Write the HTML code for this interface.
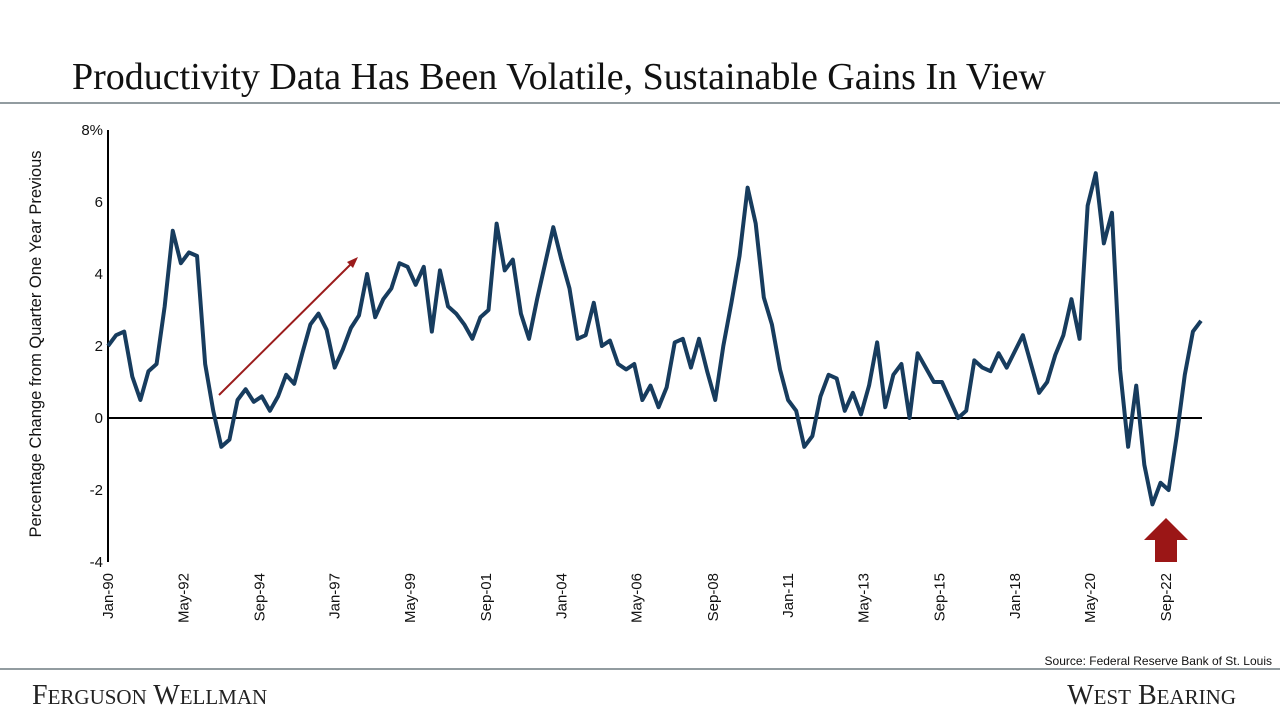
<!DOCTYPE html>
<html><head><meta charset="utf-8"><style>
body{margin:0;background:#fff;width:1280px;height:720px;overflow:hidden;font-family:"Liberation Sans",sans-serif}
</style></head><body>
<svg width="1280" height="720">
<text x="72" y="89" font-family="Liberation Serif,serif" font-size="38" fill="#111">Productivity Data Has Been Volatile, Sustainable Gains In View</text>
<line x1="0" y1="103" x2="1280" y2="103" stroke="#6f7b80" stroke-width="1.5"/>
<g id="plot"></g>
<text x="1272" y="665" text-anchor="end" font-size="12" fill="#111">Source: Federal Reserve Bank of St. Louis</text>
<line x1="0" y1="669" x2="1280" y2="669" stroke="#6f7b80" stroke-width="1.5"/>
<text x="32" y="704" font-family="Liberation Serif,serif" font-size="28" fill="#222">F<tspan font-size="21">ERGUSON</tspan> W<tspan font-size="21">ELLMAN</tspan></text>
<text x="1236" y="704" text-anchor="end" font-family="Liberation Serif,serif" font-size="28" fill="#222">W<tspan font-size="21">EST</tspan> B<tspan font-size="21">EARING</tspan></text>
</svg>
<script>
const values=[2.0,2.3,2.4,1.15,0.5,1.3,1.5,3.1,5.2,4.3,4.6,4.5,1.5,0.2,-0.8,-0.6,0.5,0.8,0.45,0.6,0.2,0.6,1.2,0.95,1.8,2.6,2.9,2.45,1.4,1.9,2.5,2.85,4.0,2.8,3.3,3.6,4.3,4.2,3.7,4.2,2.4,4.1,3.1,2.9,2.6,2.2,2.8,3.0,5.4,4.1,4.4,2.9,2.2,3.3,4.3,5.3,4.4,3.6,2.2,2.3,3.2,2.0,2.15,1.5,1.35,1.5,0.5,0.9,0.3,0.85,2.1,2.2,1.4,2.2,1.3,0.5,2.0,3.2,4.5,6.4,5.4,3.35,2.6,1.35,0.5,0.2,-0.8,-0.5,0.6,1.2,1.1,0.2,0.7,0.1,0.9,2.1,0.3,1.2,1.5,0.0,1.8,1.4,1.0,1.0,0.5,0.0,0.2,1.6,1.4,1.3,1.8,1.4,1.85,2.3,1.5,0.7,1.0,1.75,2.3,3.3,2.2,5.9,6.8,4.85,5.7,1.35,-0.8,0.9,-1.3,-2.4,-1.8,-2.0,-0.5,1.2,2.4,2.7];
const yTicks=[8,6,4,2,0,-2,-4];
const yTickLabels=["8%","6","4","2","0","-2","-4"];
const xTickLabels=["Jan-90","May-92","Sep-94","Jan-97","May-99","Sep-01","Jan-04","May-06","Sep-08","Jan-11","May-13","Sep-15","Jan-18","May-20","Sep-22"];
const xTickIndex=[0,9.3,18.7,28,37.3,46.7,56,65.3,74.7,84,93.3,102.7,112,121.3,130.7];
const NS="http://www.w3.org/2000/svg";
const g=document.getElementById('plot');
const X0=108,X1=1201,Y0=418,PX=36;
const xs=i=>X0+i*(X1-X0)/(values.length-1);
const ys=v=>Y0-v*PX;
function mk(t,a){const e=document.createElementNS(NS,t);for(const k in a)e.setAttribute(k,a[k]);g.appendChild(e);return e;}
let ax=mk('line',{x1:X0,y1:ys(8),x2:X0,y2:ys(-4),stroke:'#000','stroke-width':2});


let zl=mk('line',{x1:X0,y1:ys(0),x2:1202,y2:ys(0),stroke:'#000','stroke-width':2});


yTicks.forEach((v,i)=>{const t=mk('text',{x:103,y:ys(v)+5,'text-anchor':'end','font-size':15,fill:'#111'});t.textContent=yTickLabels[i];

});
xTickLabels.forEach((l,i)=>{const x=xs(xTickIndex[i]);const t=mk('text',{x:0,y:0,'text-anchor':'end','font-size':15,fill:'#111',transform:`translate(${x+5},573) rotate(-90)`});t.textContent=l;

});
const yt=mk('text',{x:0,y:0,'text-anchor':'middle','font-size':16.5,fill:'#111',transform:'translate(41,344) rotate(-90)'});
yt.textContent='Percentage Change from Quarter One Year Previous';


const ln=mk('polyline',{points:values.map((v,i)=>xs(i)+','+ys(v)).join(' '),fill:'none',stroke:'#173c5e','stroke-width':4,'stroke-linejoin':'round'});


const ar=mk('line',{x1:219,y1:395,x2:352,y2:263,stroke:'#9b1c1c','stroke-width':2});


const ah=mk('polygon',{points:'358,257 347,262 353,268',fill:'#9b1c1c'});


const up=mk('polygon',{points:'1166,518 1188,540 1177,540 1177,562 1155,562 1155,540 1144,540',fill:'#9b1616'});


</script>
</body></html>
